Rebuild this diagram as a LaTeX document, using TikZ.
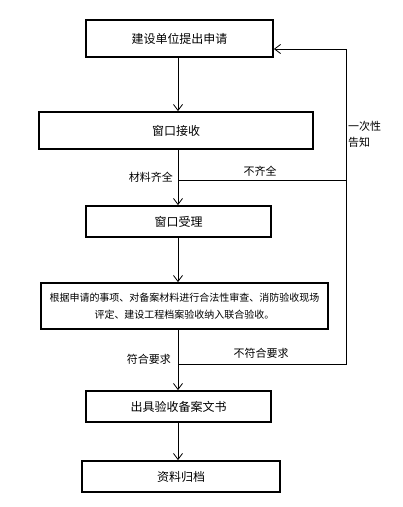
\documentclass[tikz,border=0pt]{standalone}
\usepackage{fontspec}
\setmainfont{Noto Sans CJK SC}
\usetikzlibrary{arrows.meta}
\tikzset{
  box/.style={draw,line width=1.8pt,inner sep=0pt,font=\fontsize{12pt}{14pt}\selectfont},
  conn/.style={line width=0.8pt},
  arr/.style={line width=0.8pt,-{Straight Barb[length=6pt,width=9pt]}},
  lbl/.style={inner sep=0pt,font=\fontsize{11pt}{16pt}\selectfont}
}
\begin{document}
\begin{tikzpicture}[x=1pt,y=-1pt]
        \useasboundingbox (0,0) rectangle (403,507);

        % Draw the steps of the procedure
        \node[box,minimum width=187pt,minimum height=37pt] (apply) at (179.5,38.5) {建设单位提出申请};
        \node[box,minimum width=274pt,minimum height=37pt] (receive) at (176,130.5) {窗口接收};
        \node[box,minimum width=185pt,minimum height=31pt] (accept) at (178.5,221.5) {窗口受理};
        \node[box,minimum width=287pt,minimum height=46pt,align=center,
              font=\fontsize{10pt}{17pt}\selectfont] (review) at (184.5,306)
              {根据申请的事项、对备案材料进行合法性审查、消防验收现场\\评定、建设工程档案验收纳入联合验收。};
        \node[box,minimum width=185pt,minimum height=31pt] (issue) at (178.5,406.5) {出具验收备案文书};
        \node[box,minimum width=198pt,minimum height=31pt] (archive) at (181,476.5) {资料归档};

        % Branch points on the main line and the return line
        \coordinate (split1) at (178,180);
        \coordinate (split2) at (178,364);
        \coordinate (back1) at (346,180);
        \coordinate (back2) at (346,364);
        \coordinate (backtop) at (346,49);

        % Main line
        \draw[arr] (apply.south -| split1) -- (receive.north -| split1);
        \draw[arr] (receive.south -| split1) -- (accept.north -| split1);
        \draw[arr] (accept.south -| split1) -- (review.north -| split1);
        \draw[arr] (review.south -| split1) -- (issue.north -| split1);
        \draw[arr] (issue.south -| split1) -- (archive.north -| split1);

        % Return line to the applicant
        \draw[conn] (split1) -- (back1);
        \draw[arr] (split2) -- (back2) -- (backtop) -- (apply.east |- backtop);

        % Labels
        \node[lbl,anchor=east] (full) at (173,177) {材料齐全};
        \node[lbl] (notfull) at (260,171) {不齐全};
        \node[lbl,anchor=west,align=left] (once) at (348,134) {一次性\\告知};
        \node[lbl,anchor=east] (meet) at (171,359) {符合要求};
        \node[lbl] (notmeet) at (261,353) {不符合要求};
    \end{tikzpicture}
\end{document}
